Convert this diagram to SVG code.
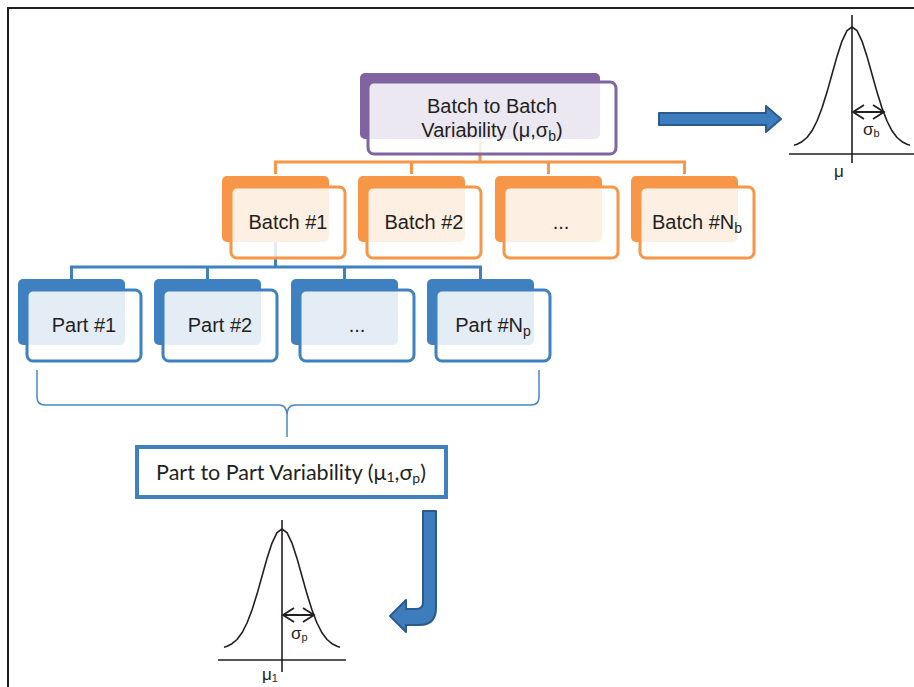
<svg xmlns="http://www.w3.org/2000/svg" width="914" height="687" viewBox="0 0 914 687">
<style>
.t{font-family:"Liberation Sans",Arial,sans-serif;font-size:20px;fill:#231f20;text-anchor:middle}
.s{font-family:"Liberation Sans",Arial,sans-serif;font-size:17px;fill:#231f20}
.ob{fill:#f79646}
.of{fill:#fff;fill-opacity:0.85;stroke:#f79646;stroke-width:3}
.bb{fill:#3f80c0}
.bf{fill:#fff;fill-opacity:0.86;stroke:#3f80c0;stroke-width:3}
.ol{fill:none;stroke:#f79646;stroke-width:3}
.bl{fill:none;stroke:#3f80c0;stroke-width:3}
.ax{fill:none;stroke:#231f20;stroke-width:1.6}
.arr{fill:#3d7dbd;stroke:#2a5b8c;stroke-width:2;stroke-linejoin:round}
</style>
<defs>
<path id="bell" d="M-58,-1.8 L-55,-2.7 L-50,-5.3 L-45,-9.5 L-40,-16.2 L-35,-26 L-30,-39 L-25,-54.9 L-20,-72.8 L-15,-90.6 L-10,-105.9 L-5,-116.3 L0,-120 L5,-116.3 L10,-105.9 L15,-90.6 L20,-72.8 L25,-54.9 L30,-39 L35,-26 L40,-16.2 L45,-9.5 L50,-5.3 L55,-2.7 L58,-1.8" fill="none" stroke="#231f20" stroke-width="1.6" stroke-linejoin="round"/>
<path id="sig" d="M0,0 H31 M11,-7 L0,0 L11,7 M20,-7 L31,0 L20,7" fill="none" stroke="#231f20" stroke-width="1.8"/>
</defs>
<rect width="914" height="687" fill="#fff"/>
<path d="M8,687 V8 H914" fill="none" stroke="#231f20" stroke-width="2"/>

<g id="connectors">
<path class="ol" d="M480,139 V162 M275.5,174 V162 H684.5 V174 M411.5,162 V174 M548.5,162 V174"/>
<path class="bl" d="M275.5,242 V267 M71.5,279 V267 H480.5 V279 M207.5,267 V279 M344.5,267 V279"/>
<path d="M37,370 V397 Q37,405 45,405 H279 Q287,405 287,416 V437 M539,370 V397 Q539,405 531,405 H295 Q287,405 287,416" fill="none" stroke="#4a86c5" stroke-width="1.5"/>
<path class="arr" d="M659,113 H766 V106 L781,119 L766,132 V125 H659 Z"/>
<path class="arr" d="M423,511 H436 V608 Q436,625 419,625 H406 V632 L390,616 L406,600 V609 H416 Q423,609 423,602 Z"/>
</g>

<g id="top">
<rect x="360" y="73" width="240" height="66" rx="5" fill="#8064a2"/>
<rect x="368" y="82" width="248" height="72" rx="6" fill="#fff" fill-opacity="0.85" stroke="#8064a2" stroke-width="3"/>
<text class="t" x="492" y="113">Batch to Batch</text>
<text class="t" x="492" y="137">Variability (μ,σ<tspan font-size="14" dy="4">b</tspan><tspan dy="-4">)</tspan></text>
</g>

<g id="batch1"><rect class="ob" x="222" y="176" width="107" height="66" rx="5"/><rect class="of" x="231" y="187" width="114" height="71" rx="6"/><text class="t" x="288" y="229">Batch #1</text></g>
<g id="batch2"><rect class="ob" x="358" y="176" width="107" height="66" rx="5"/><rect class="of" x="367" y="187" width="114" height="71" rx="6"/><text class="t" x="424" y="229">Batch #2</text></g>
<g id="batch3"><rect class="ob" x="495" y="176" width="107" height="66" rx="5"/><rect class="of" x="504" y="187" width="114" height="71" rx="6"/><text class="t" x="561" y="229">...</text></g>
<g id="batchN"><rect class="ob" x="631" y="176" width="107" height="66" rx="5"/><rect class="of" x="640" y="187" width="114" height="71" rx="6"/><text class="t" x="697" y="229">Batch #N<tspan font-size="14" dy="4">b</tspan></text></g>

<g id="part1"><rect class="bb" x="18" y="279" width="107" height="66" rx="5"/><rect class="bf" x="27" y="290" width="114" height="71" rx="6"/><text class="t" x="84" y="332">Part #1</text></g>
<g id="part2"><rect class="bb" x="154" y="279" width="107" height="66" rx="5"/><rect class="bf" x="163" y="290" width="114" height="71" rx="6"/><text class="t" x="220" y="332">Part #2</text></g>
<g id="part3"><rect class="bb" x="291" y="279" width="107" height="66" rx="5"/><rect class="bf" x="300" y="290" width="114" height="71" rx="6"/><text class="t" x="357" y="332">...</text></g>
<g id="partN"><rect class="bb" x="427" y="279" width="107" height="66" rx="5"/><rect class="bf" x="436" y="290" width="114" height="71" rx="6"/><text class="t" x="493" y="332">Part #N<tspan font-size="14" dy="4">p</tspan></text></g>

<g id="p2p">
<rect x="137" y="447" width="309" height="50" fill="#fff" stroke="#3f80c0" stroke-width="4"/>
<text x="291" y="480" font-family="Lato,'Open Sans',sans-serif" font-size="21.5" fill="#231f20" text-anchor="middle">Part to Part Variability (μ<tspan font-size="14" dy="2">1</tspan><tspan dy="-2">,σ</tspan><tspan font-size="14" dy="3">p</tspan><tspan dy="-3">)</tspan></text>
</g>

<g id="bellTop">
<path class="ax" d="M789,154 H914 M852,15 V163"/>
<use href="#bell" transform="translate(852,147)"/>
<use href="#sig" transform="translate(853,112)"/>
<text class="s" x="863" y="135">σ<tspan font-size="11" dy="2">b</tspan></text>
<text class="s" x="834" y="177">μ</text>
</g>

<g id="bellBottom">
<path class="ax" d="M218,660 H346 M282,520 V672"/>
<use href="#bell" transform="translate(282,649)"/>
<use href="#sig" transform="translate(283,615)"/>
<text class="s" x="291" y="639">σ<tspan font-size="11" dy="2">p</tspan></text>
<text class="s" x="262" y="680">μ<tspan font-size="11" dy="2">1</tspan></text>
</g>
</svg>
